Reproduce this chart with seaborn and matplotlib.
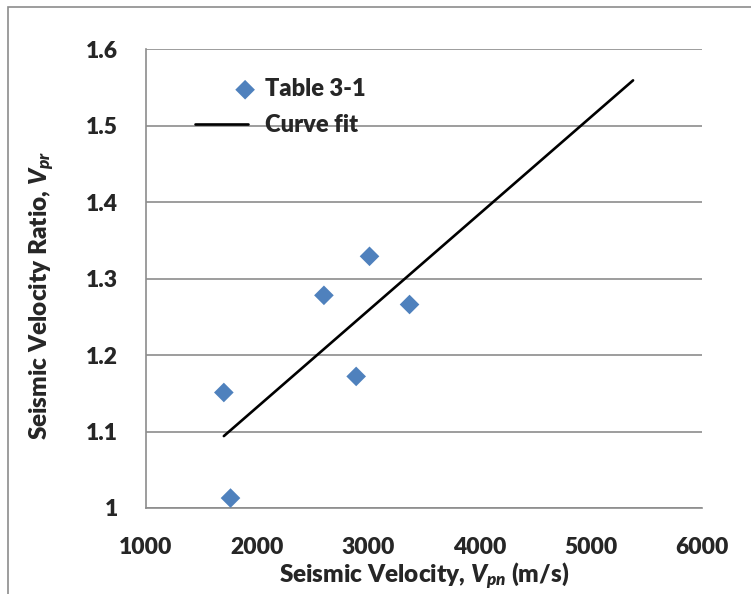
import numpy as np
import pandas as pd
import seaborn as sns
import matplotlib.pyplot as plt
from matplotlib.patches import Rectangle

# Data
velocity = [1700, 1760, 2600, 2890, 3010, 3370]
ratio = [1.151, 1.013, 1.278, 1.172, 1.329, 1.266]

fit_velocity = [1700, 5380]
fit_ratio = [1.094, 1.559]

x_ticks = [1000, 2000, 3000, 4000, 5000, 6000]
y_ticks = [1.0, 1.1, 1.2, 1.3, 1.4, 1.5, 1.6]
y_tick_labels = ["1", "1.1", "1.2", "1.3", "1.4", "1.5", "1.6"]

sns.set_style("white")
plt.rcParams["font.family"] = ["Lato", "DejaVu Sans"]
plt.rcParams["font.weight"] = 800
plt.rcParams["mathtext.fontset"] = "custom"
plt.rcParams["mathtext.it"] = "Lato:style=italic:weight=800"
plt.rcParams["mathtext.rm"] = "Lato:weight=800"

grey = "#8c8c8c"
blue = "#4f81bd"
W = 800

fig = plt.figure(figsize=(7.51, 5.94), dpi=100)
# outer chart frame (right and bottom edges fall outside the picture)
fig.patches.append(Rectangle((8 / 751, -0.1), 1.2, 1.1 - 7 / 594, transform=fig.transFigure,
                             fill=False, edgecolor=grey, linewidth=1.2))
ax = fig.add_axes([146 / 751, 86 / 594, 556 / 751, 459 / 594])

points = pd.DataFrame({"Velocity": velocity, "Ratio": ratio})
fit = pd.DataFrame({"Velocity": fit_velocity, "Ratio": fit_ratio})

sns.scatterplot(data=points, x="Velocity", y="Ratio", marker="D", s=100,
                color=blue, edgecolor="none", label="Table 3-1", ax=ax, zorder=3)
sns.lineplot(data=fit, x="Velocity", y="Ratio", color="black", linewidth=1.9,
             label="Curve fit", ax=ax, zorder=4)

ax.set_xlim(1000, 6000)
ax.set_ylim(1.0, 1.6)
ax.set_xticks(x_ticks)
ax.set_yticks(y_ticks)
ax.set_yticklabels(y_tick_labels)
ax.yaxis.grid(True, color=grey, linewidth=1.2)
ax.xaxis.grid(False)
ax.set_axisbelow(True)

for side in ["top", "right"]:
    ax.spines[side].set_visible(False)
for side in ["left", "bottom"]:
    ax.spines[side].set_color(grey)
    ax.spines[side].set_linewidth(1.2)

ax.tick_params(axis="both", direction="out", length=6, width=1.2, color=grey,
               labelsize=16.5)
ax.tick_params(axis="x", pad=15)
ax.tick_params(axis="y", pad=14)
for lab in ax.get_xticklabels() + ax.get_yticklabels():
    lab.set_fontweight(W)

ax.set_xlabel(r"Seismic Velocity, $V_{pn}$ (m/s)", fontsize=17.5, fontweight=W, labelpad=2)
ax.set_ylabel(r"Seismic Velocity Ratio, $V_{pr}$", fontsize=17.5, fontweight=W)
ax.yaxis.set_label_coords(-0.16, 0.462)

leg = ax.legend(loc="upper left", bbox_to_anchor=(0.088, 0.937), frameon=False,
                borderpad=0, borderaxespad=0,
                prop={"size": 17, "weight": W}, handlelength=2.25,
                handletextpad=0.7, labelspacing=0.6)
# the diamond sits at the right end of its legend slot, as in the reference
marker_handle = leg.legend_handles[0]
offs = np.asarray(marker_handle.get_offsets(), dtype=float)
offs[:, 0] += 17
marker_handle.set_offsets(offs)

fig.savefig("out.png", dpi=100)
